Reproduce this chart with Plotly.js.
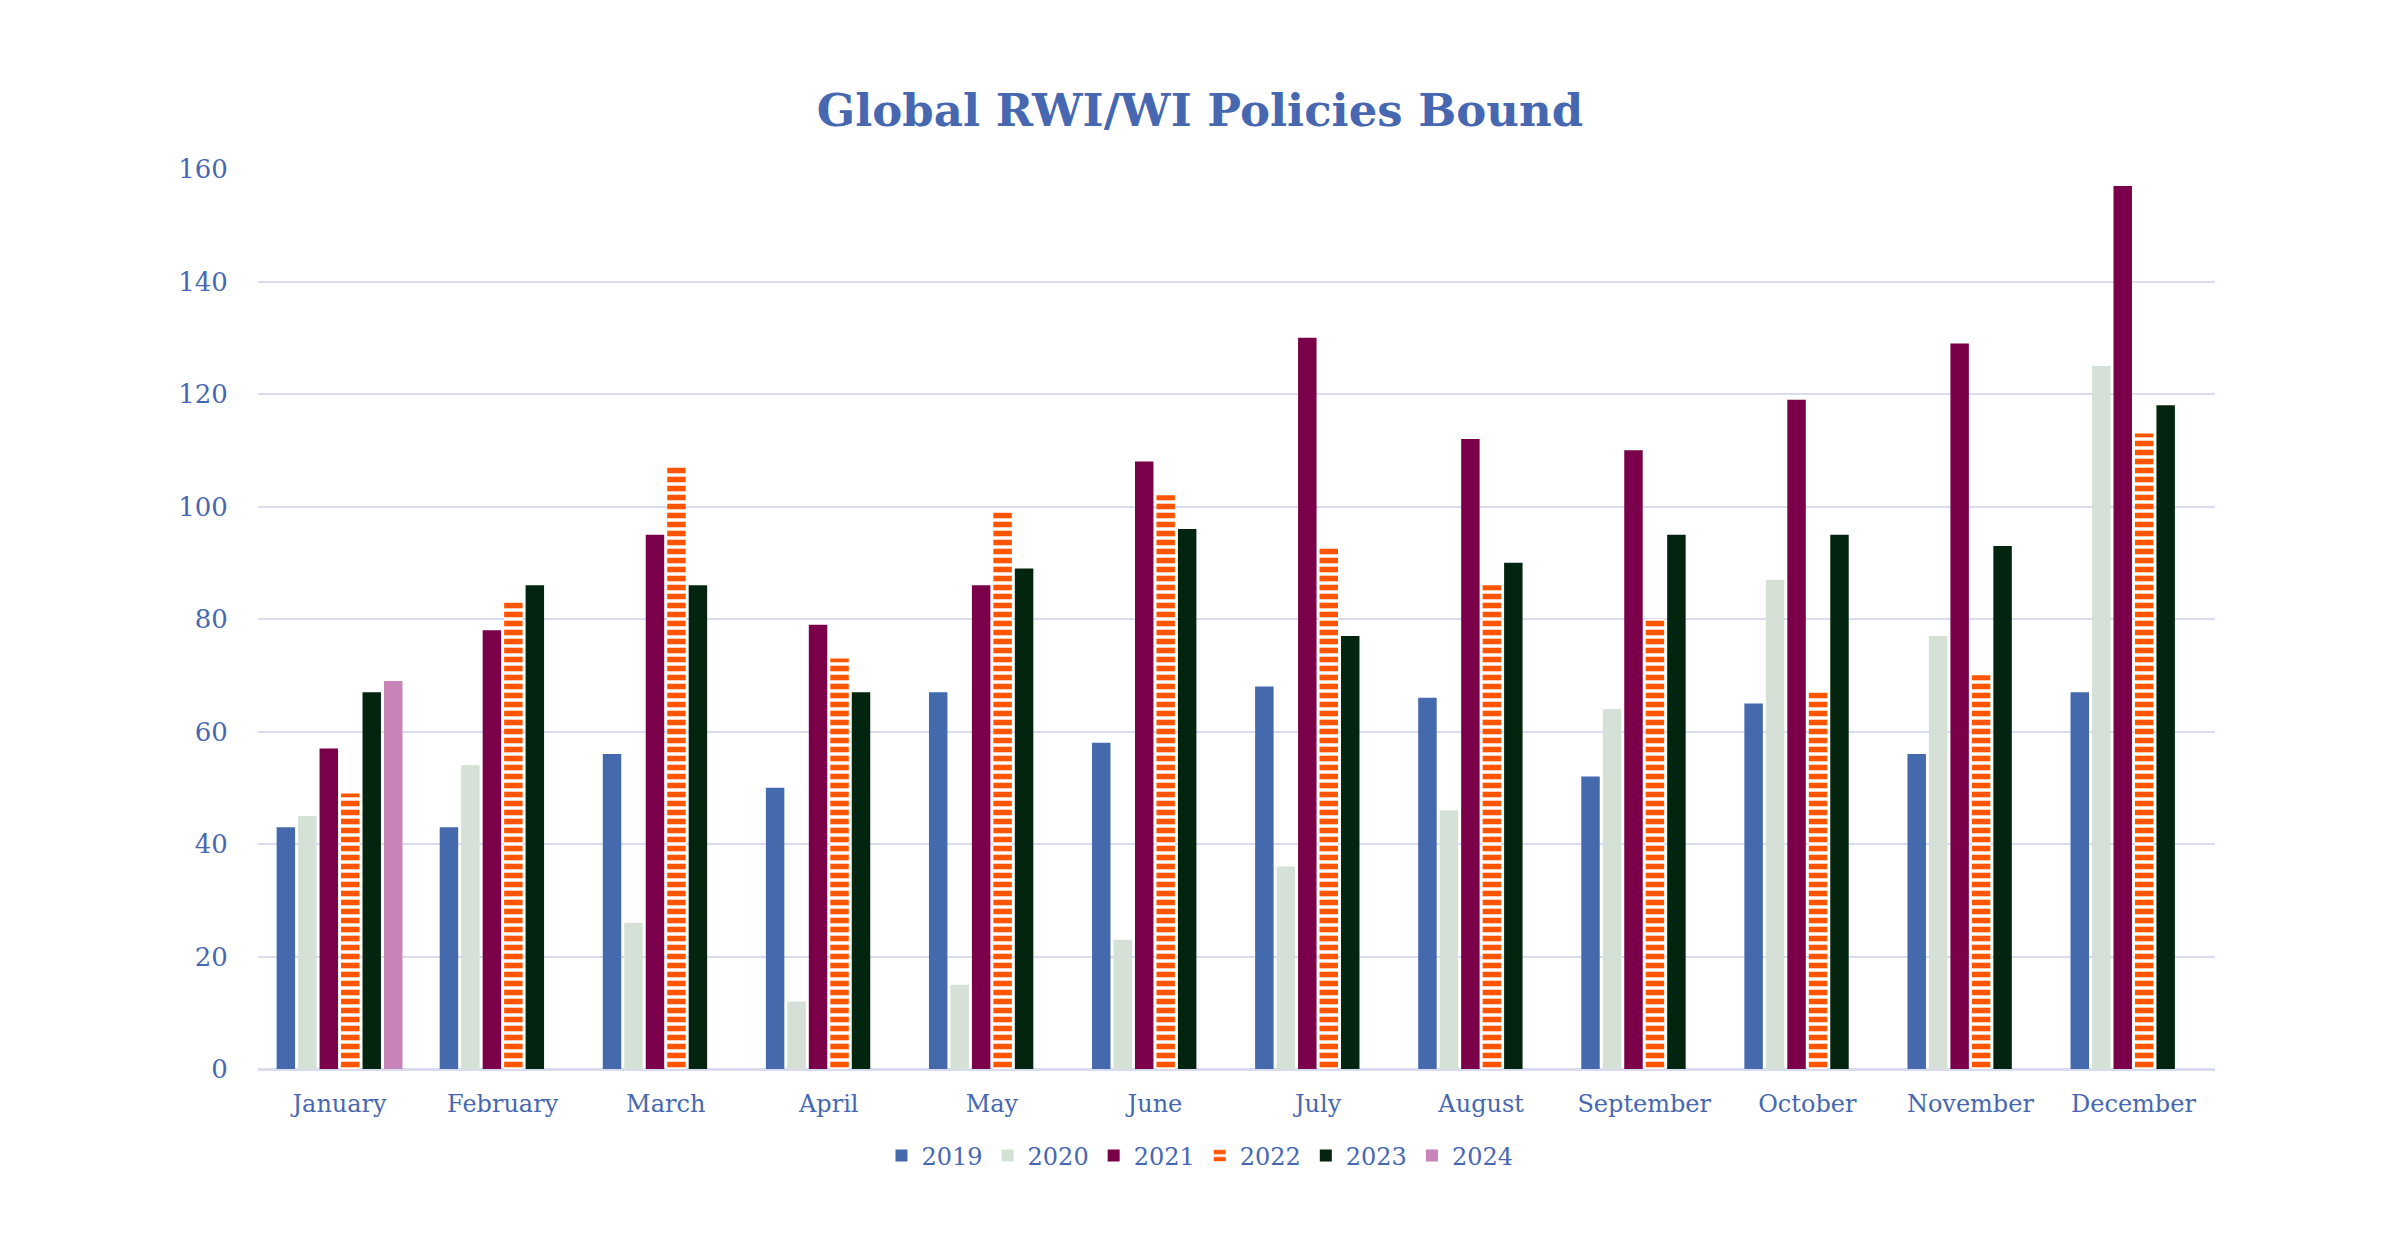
<!DOCTYPE html>
<html>
<head>
<meta charset="utf-8">
<script src="https://cdn.plot.ly/plotly-3.0.1.min.js"></script>
<style>html,body{margin:0;padding:0;background:#fff;}#chart{width:2400px;height:1254px;}</style>
</head>
<body>
<div id="chart"></div>
<script>
const months = ["January","February","March","April","May","June","July","August","September","October","November","December"];
const seriesNames = ["2019","2020","2021","2022","2023","2024"];
const v2019 = [43,43,56,50,67,58,68,66,52,65,56,67];
const v2020 = [45,54,26,12,15,23,36,46,64,87,77,125];
const v2021 = [57,78,95,79,86,108,130,112,110,119,129,157];
const v2022 = [49,83,107,73,99,102,93,86,80,67,70,113];
const v2023 = [67,86,86,67,89,96,77,90,95,95,93,118];
const v2024 = [69,null,null,null,null,null,null,null,null,null,null,null];
const yTicks = [0,20,40,60,80,100,120,140,160];

const colors = ["#4569ad","#d5e1d6","#7a0049","#ff5500","#03240f","#c883b9"];
const allVals = [v2019,v2020,v2021,v2022,v2023,v2024];

const blue = "#4768b0";
const font = "DejaVu Serif, Liberation Serif, serif";

const traces = allVals.map((vals,i)=>{
  const t = {type:"bar", name:seriesNames[i], x:months, y:vals,
    marker:{color:colors[i], line:{width:0}}};
  if (seriesNames[i]==="2022") {
    t.marker = {color:"#ffffff", line:{width:0},
      pattern:{shape:"-", fgcolor:colors[i], bgcolor:"#ffffff", fgopacity:1, size:9, solidity:0.62, fillmode:"overlay"}};
  }
  return t;
});

const layout = {
  width:2400, height:1254,
  paper_bgcolor:"#ffffff", plot_bgcolor:"#ffffff",
  margin:{l:258, r:185, t:169, b:185},
  title:{text:"<b>Global RWI/WI Policies Bound</b>", x:0.5, xref:"container", y:1-110/1254, yref:"container", yanchor:"middle",
    font:{family:font, size:45, color:blue}},
  barmode:"group", bargap:0.21, bargroupgap:0.14,
  xaxis:{tickfont:{family:font, size:24, color:blue}, ticks:"outside", ticklen:12, tickcolor:"rgba(0,0,0,0)",
    showgrid:false, showline:true, linecolor:"#d9dcee", linewidth:2},
  yaxis:{range:[0,160], tickvals:yTicks, tickfont:{family:font, size:26, color:blue},
    ticks:"outside", ticklen:24, tickcolor:"rgba(0,0,0,0)",
    gridcolor:"#d9dcee", gridwidth:2, zeroline:true, zerolinecolor:"#d9dcee", zerolinewidth:2, showline:false},
  legend:{orientation:"h", x:0.5, xref:"container", xanchor:"center", y:1-1156/1254, yref:"container", yanchor:"middle",
    font:{family:font, size:24, color:blue}, itemwidth:30, traceorder:"normal"},
  showlegend:true
};

Plotly.newPlot("chart", traces, layout, {displayModeBar:false, staticPlot:true});
</script>
</body>
</html>
